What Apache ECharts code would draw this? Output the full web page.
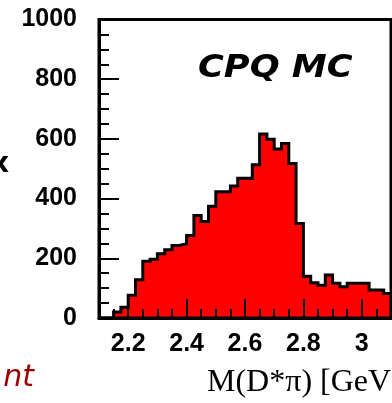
<!DOCTYPE html>
<html><head><meta charset="utf-8">
<script src="https://cdn.jsdelivr.net/npm/echarts@6/dist/echarts.min.js"></script>
<style>html,body{margin:0;padding:0;background:#fff}#c{width:392px;height:403px}</style>
</head><body><div id="c"></div>
<script>
// Histogram: 40 bins of width 0.025 from 2.1 to 3.1
const binStart = 2.1;
const binWidth = 0.025;
const counts = [0, 0, 20, 36, 76, 128, 190, 197, 215, 229,
                243, 249, 276, 343, 323, 374, 423, 423, 442, 468,
                468, 513, 616, 599, 566, 585, 518, 317, 140, 118,
                110, 144, 116, 105, 116, 116, 116, 94, 94, 82];
const xMajorTicks = [2.2, 2.4, 2.6, 2.8, 3.0];
const xMinorTicks = [2.15, 2.2, 2.25, 2.3, 2.35, 2.4, 2.45, 2.5, 2.55, 2.6, 2.65, 2.7, 2.75, 2.8, 2.85, 2.9, 2.95, 3.0, 3.05];
const xRange = [2.1, 3.1];
const yRange = [0, 1000];
const yInterval = 200;
const titleText = 'CPQ MC';
const xTitleText = 'M(D*\u03c0) [GeV]';
const leftCutText = 'nt';
const leftEdgeGlyph = 'x';

const stepData = counts.map((v, i) => [binStart + i * binWidth, v]);
stepData.push([binStart + counts.length * binWidth, counts[counts.length - 1]]);

const chart = echarts.init(document.getElementById('c'), null, {renderer: 'canvas'});
const lab = {color: '#000', fontFamily: '"Liberation Sans", Arial, sans-serif', fontWeight: 'bold', fontSize: 25};
chart.setOption({
  animation: false,
  backgroundColor: '#fff',
  grid: {left: 99, right: 1, top: 19.5, bottom: 85, show: true, borderColor: '#000', borderWidth: 3,
         backgroundColor: 'transparent', containLabel: false, outerBoundsMode: 'none', z: 6},
  xAxis: [{
    type: 'value', min: xRange[0], max: xRange[1], position: 'bottom', z: 5,
    axisLine: {show: true, onZero: false, lineStyle: {color: '#000', width: 3}},
    axisTick: {show: true, inside: true, length: 19, customValues: xMajorTicks, lineStyle: {color: '#000', width: 2}},
    axisLabel: Object.assign({show: true, margin: 14, customValues: xMajorTicks, formatter: v => String(+(+v).toFixed(1))}, lab),
    splitLine: {show: false}
  }, {
    type: 'value', min: xRange[0], max: xRange[1], position: 'bottom', z: 5,
    axisLine: {show: false},
    axisTick: {show: true, inside: true, length: 9, customValues: xMinorTicks, lineStyle: {color: '#000', width: 2}},
    axisLabel: {show: false},
    splitLine: {show: false}
  }],
  yAxis: {
    type: 'value', min: yRange[0], max: yRange[1], interval: yInterval, z: 5,
    axisLine: {show: true, onZero: false, lineStyle: {color: '#000', width: 3}},
    axisTick: {show: true, inside: true, length: 20, lineStyle: {color: '#000', width: 2}},
    minorTick: {show: true, splitNumber: 4, length: 10, lineStyle: {color: '#000', width: 2}},
    axisLabel: Object.assign({margin: 22, padding: [6, 0, 0, 0], formatter: v => String(v)}, lab),
    splitLine: {show: false}, minorSplitLine: {show: false}
  },
  series: [{
    type: 'line', xAxisIndex: 0, step: 'end', data: stepData, symbol: 'none', z: 2,
    lineStyle: {color: '#000', width: 3, join: 'miter', cap: 'butt'},
    areaStyle: {color: '#ff0000', opacity: 1}
  }],
  graphic: [
    {type: 'text', x: 198, y: 69, scaleX: 1.1, z: 10, style: {text: titleText, font: 'italic bold 32px "DejaVu Sans"', fill: '#000', align: 'left', verticalAlign: 'middle'}},
    {type: 'text', x: 34, y: 378, z: 10, style: {text: leftCutText, font: 'italic 30px "DejaVu Sans"', fill: '#9b0000', align: 'right', verticalAlign: 'middle'}},
    {type: 'text', x: 207, y: 383, z: 10, style: {text: xTitleText, font: '32px "Liberation Serif"', fill: '#000', align: 'left', verticalAlign: 'middle'}},
    {type: 'text', x: 0, y: 165, z: 10, style: {text: leftEdgeGlyph, font: 'bold 28px "DejaVu Sans"', fill: '#000', align: 'center', verticalAlign: 'middle'}}
  ]
});
</script></body></html>
